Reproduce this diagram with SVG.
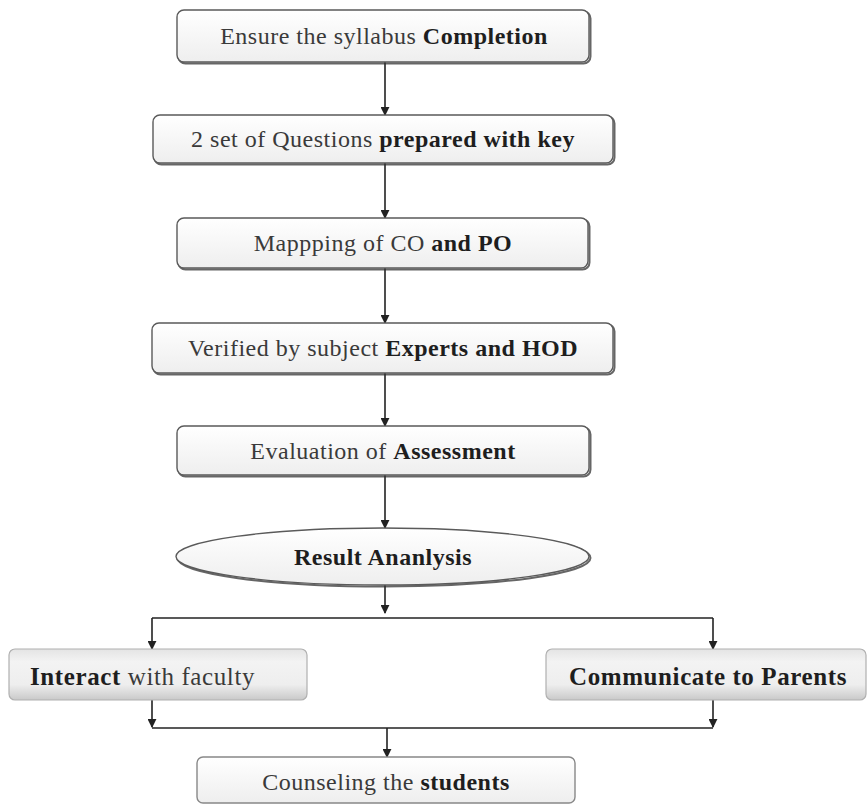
<svg xmlns="http://www.w3.org/2000/svg" width="867" height="805" viewBox="0 0 867 805">
  <defs>
    <linearGradient id="boxFill" x1="0" y1="0" x2="0" y2="1">
      <stop offset="0" stop-color="#ffffff"/>
      <stop offset="1" stop-color="#eeeeee"/>
    </linearGradient>
    <linearGradient id="sideFill" x1="0" y1="0" x2="0" y2="1">
      <stop offset="0" stop-color="#e4e4e4"/>
      <stop offset="0.25" stop-color="#f3f3f3"/>
      <stop offset="0.7" stop-color="#eeeeee"/>
      <stop offset="1" stop-color="#c9c9c9"/>
    </linearGradient>
    <marker id="arrow" viewBox="0 0 10 10" refX="9" refY="5" markerWidth="9" markerHeight="9" markerUnits="userSpaceOnUse" orient="auto">
      <path d="M0,0 L10,5 L0,10 Z" fill="#222"/>
    </marker>
  </defs>
  <style>
    .box { fill: url(#boxFill); stroke: #5a5a5a; stroke-width: 1.4; }
    .shadow { fill: none; stroke: #333; stroke-width: 2; opacity: 0.75; }
    .side { fill: url(#sideFill); stroke: #b0b0b0; stroke-width: 1.2; }
    .line { fill: none; stroke: #222; stroke-width: 1.6; }
    text { font-family: "Liberation Serif", "DejaVu Serif", serif; font-size: 24px; letter-spacing: 0.5px; fill: #3a3a3a; text-anchor: middle; }
    .big { font-size: 25px; letter-spacing: 0.6px; }
    .b { font-weight: bold; fill: #1e1e1e; }
  </style>
  <rect width="867" height="805" fill="#ffffff"/>

  <g id="connectors">
    <line class="line" x1="385" y1="62" x2="385" y2="115" marker-end="url(#arrow)"/>
    <line class="line" x1="385" y1="163" x2="385" y2="218" marker-end="url(#arrow)"/>
    <line class="line" x1="385" y1="268" x2="385" y2="323" marker-end="url(#arrow)"/>
    <line class="line" x1="385" y1="373" x2="385" y2="426" marker-end="url(#arrow)"/>
    <line class="line" x1="385" y1="475" x2="385" y2="528" marker-end="url(#arrow)"/>
    <line class="line" x1="385" y1="585" x2="385" y2="613" marker-end="url(#arrow)"/>
    <polyline class="line" points="152,618 713,618"/>
    <line class="line" x1="152" y1="618" x2="152" y2="649" marker-end="url(#arrow)"/>
    <line class="line" x1="713" y1="618" x2="713" y2="649" marker-end="url(#arrow)"/>
    <line class="line" x1="152" y1="700" x2="152" y2="727" marker-end="url(#arrow)"/>
    <line class="line" x1="713" y1="700" x2="713" y2="727" marker-end="url(#arrow)"/>
    <polyline class="line" points="152,728 713,728"/>
    <line class="line" x1="387" y1="728" x2="387" y2="757" marker-end="url(#arrow)"/>
  </g>

  <g id="node-syllabus">
    <rect class="shadow" x="178.5" y="11.5" width="412" height="52" rx="7"/>
    <rect class="box" x="177" y="10" width="412" height="52" rx="7"/>
    <text x="384" y="44">Ensure the syllabus <tspan class="b">Completion</tspan></text>
  </g>

  <g id="node-questions">
    <rect class="shadow" x="154.5" y="116.5" width="460" height="48" rx="7"/>
    <rect class="box" x="153" y="115" width="460" height="48" rx="7"/>
    <text x="383" y="147">2 set of Questions <tspan class="b">prepared with key</tspan></text>
  </g>

  <g id="node-mapping">
    <rect class="shadow" x="178.5" y="219.5" width="411" height="50" rx="7"/>
    <rect class="box" x="177" y="218" width="411" height="50" rx="7"/>
    <text x="383" y="251">Mappping of CO <tspan class="b">and PO</tspan></text>
  </g>

  <g id="node-verified">
    <rect class="shadow" x="153.5" y="324.5" width="461" height="50" rx="7"/>
    <rect class="box" x="152" y="323" width="461" height="50" rx="7"/>
    <text x="383" y="356">Verified by subject <tspan class="b">Experts and HOD</tspan></text>
  </g>

  <g id="node-evaluation">
    <rect class="shadow" x="178.5" y="427.5" width="412" height="49" rx="7"/>
    <rect class="box" x="177" y="426" width="412" height="49" rx="7"/>
    <text x="383" y="459">Evaluation of <tspan class="b">Assessment</tspan></text>
  </g>

  <g id="node-result">
    <ellipse class="shadow" cx="384" cy="558" rx="206.5" ry="28.5"/>
    <ellipse class="box" cx="382.5" cy="556.5" rx="206.5" ry="28.5"/>
    <text x="383" y="565" class="b">Result Ananlysis</text>
  </g>

  <g id="node-faculty">
    <rect class="side" x="9" y="649" width="298" height="51" rx="6"/>
    <text x="30" y="685" class="big" style="text-anchor:start"><tspan class="b">Interact</tspan> with faculty</text>
  </g>

  <g id="node-parents">
    <rect class="side" x="546" y="649" width="320" height="51" rx="6"/>
    <text x="708" y="685" class="b big">Communicate to Parents</text>
  </g>

  <g id="node-counseling">
    <rect class="box" x="197" y="757" width="378" height="46" rx="6" style="stroke:#888"/>
    <text x="386" y="790">Counseling the <tspan class="b">students</tspan></text>
  </g>
</svg>
